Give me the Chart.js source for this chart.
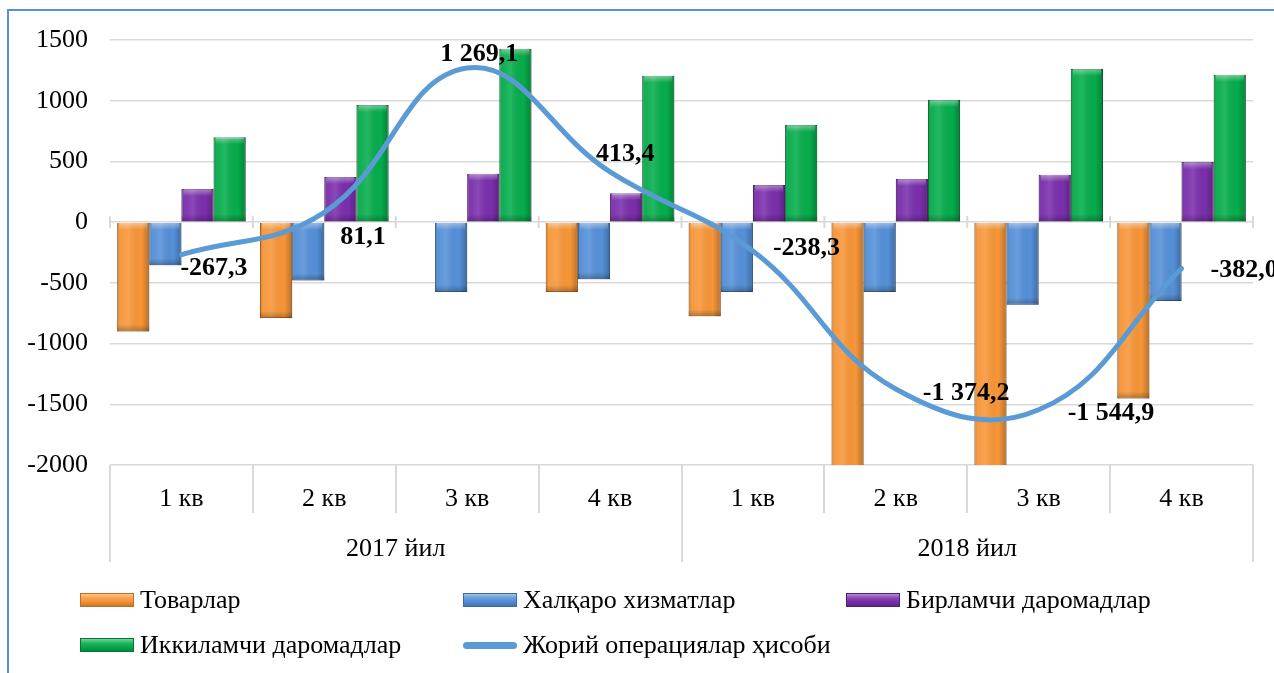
<!DOCTYPE html>
<html>
<head>
<meta charset="utf-8">
<script src="https://cdn.jsdelivr.net/npm/chart.js@4.4.0/dist/chart.umd.min.js"></script>
<style>
  html, body { margin: 0; padding: 0; background: #fff; }
  #wrap { position: relative; width: 1274px; height: 673px; overflow: hidden; }
  #frame { position: absolute; left: 7px; top: 9px; width: 1320px; height: 720px; border: 2px solid #5b8fdc; }
  #chart { position: absolute; left: 0; top: 0; }
  #legend { position: absolute; left: 0; top: 0; font-family: "Liberation Serif", "Times New Roman", serif; font-size: 26px; color: #000; }
  .item { position: absolute; display: flex; align-items: center; white-space: nowrap; height: 30px; }
  .sw { width: 54px; height: 14px; margin-right: 6px; box-sizing: border-box; }
  .sw.line { height: 7px; border-radius: 4px; }
</style>
</head>
<body>
<div id="wrap">
  <div id="frame"></div>
  <canvas id="chart" width="1274" height="673"></canvas>
  <div id="legend"></div>
</div>
<script>
// values
const quarters = ['1 кв', '2 кв', '3 кв', '4 кв', '1 кв', '2 кв', '3 кв', '4 кв'];
const years = ['2017 йил', '2018 йил'];

const goods = [-900, -790, -8, -575, -775, -2150, -2150, -1452];
const services = [-355, -480, -575, -470, -575, -575, -680, -650];
const primaryIncome = [272, 372, 398, 238, 305, 355, 390, 495];
const secondaryIncome = [700, 965, 1427, 1205, 800, 1005, 1262, 1213];
const currentAccount = [-267.3, 81.1, 1269.1, 413.4, -238.3, -1374.2, -1544.9, -382.0];

const yMin = -2000;
const yMax = 1500;
const yStep = 500;

const seriesNames = ['Товарлар', 'Халқаро хизматлар', 'Бирламчи даромадлар', 'Иккиламчи даромадлар', 'Жорий операциялар ҳисоби'];

const FONT = '"Liberation Serif", "Times New Roman", serif';
const GRID = '#d9d9d9';

// number like "-1 374,2"
function fmt(v) {
  const s = Math.abs(v).toFixed(1).split('.');
  const int = s[0].replace(/\B(?=(\d{3})+(?!\d))/g, ' ');
  return (v < 0 ? '-' : '') + int + ',' + s[1];
}

// soft 3d shading on top of every bar
const barShade = {
  id: 'barShade',
  afterDatasetDraw(chart, args) {
    if (args.meta.type !== 'bar') return;
    const { ctx, chartArea } = chart;
    ctx.save();
    ctx.beginPath();
    ctx.rect(chartArea.left, chartArea.top, chartArea.right - chartArea.left, chartArea.bottom - chartArea.top);
    ctx.clip();
    args.meta.data.forEach((bar) => {
      const { x, y, base, width } = bar.getProps(['x', 'y', 'base', 'width']);
      const l = x - width / 2;
      const top = Math.min(y, base);
      const h = Math.abs(base - y);
      if (h < 2) return;
      const g = ctx.createLinearGradient(l, 0, l + width, 0);
      g.addColorStop(0, 'rgba(0,0,0,0.2)');
      g.addColorStop(0.12, 'rgba(255,255,255,0.04)');
      g.addColorStop(0.35, 'rgba(255,255,255,0.12)');
      g.addColorStop(0.75, 'rgba(0,0,0,0)');
      g.addColorStop(1, 'rgba(0,0,0,0.25)');
      ctx.fillStyle = g;
      ctx.fillRect(l, top, width, h);
      const bev = Math.min(7, h / 2);
      const gt = ctx.createLinearGradient(0, top, 0, top + bev);
      gt.addColorStop(0, 'rgba(255,255,255,0.4)');
      gt.addColorStop(1, 'rgba(255,255,255,0)');
      ctx.fillStyle = gt;
      ctx.fillRect(l + 2, top, width - 4, bev);
      const gb = ctx.createLinearGradient(0, top + h - bev, 0, top + h);
      gb.addColorStop(0, 'rgba(0,0,0,0)');
      gb.addColorStop(1, 'rgba(0,0,0,0.25)');
      ctx.fillStyle = gb;
      ctx.fillRect(l, top + h - bev, width, bev);
    });
    ctx.restore();
  }
};

// short tick marks where the category axis crosses zero
const zeroTicks = {
  id: 'zeroTicks',
  beforeDatasetsDraw(chart) {
    const { ctx } = chart;
    const xs = chart.scales.x;
    const y0 = chart.scales.y.getPixelForValue(0);
    const half = (xs.getPixelForValue(1) - xs.getPixelForValue(0)) / 2;
    ctx.save();
    ctx.strokeStyle = GRID;
    ctx.lineWidth = 2;
    for (let i = 0; i <= quarters.length; i++) {
      const px = xs.getPixelForValue(i) - half;
      ctx.beginPath();
      ctx.moveTo(px, y0 - 6);
      ctx.lineTo(px, y0 + 6);
      ctx.stroke();
    }
    ctx.restore();
  }
};

// value labels of the line, placed like in the original
const lineLabels = {
  id: 'lineLabels',
  afterDatasetsDraw(chart, args, opts) {
    const idx = chart.data.datasets.findIndex((d) => d.type === 'line');
    const meta = chart.getDatasetMeta(idx);
    const { ctx } = chart;
    ctx.save();
    ctx.font = 'bold 26px ' + FONT;
    ctx.fillStyle = '#000';
    ctx.textAlign = 'left';
    ctx.textBaseline = 'middle';
    meta.data.forEach((pt, i) => {
      const off = opts.offsets[i] || [8, 0];
      ctx.fillText(fmt(chart.data.datasets[idx].data[i]), pt.x + off[0], pt.y + off[1]);
    });
    ctx.restore();
  }
};

const barColors = [
  { bg: '#f79638', border: '#c06f22' },
  { bg: '#5590d8', border: '#386aa8' },
  { bg: '#7a2fac', border: '#531e78' },
  { bg: '#06ad4c', border: '#067634' }
];
const lineColor = '#5b9bd5';

const barSeries = [goods, services, primaryIncome, secondaryIncome];

const datasets = barSeries.map((data, i) => ({
  type: 'bar',
  label: seriesNames[i],
  data,
  backgroundColor: barColors[i].bg,
  borderColor: barColors[i].border,
  borderWidth: 1,
  barPercentage: 1,
  categoryPercentage: 0.9,
  clip: 0,
  order: 1
}));

datasets.push({
  type: 'line',
  label: seriesNames[4],
  data: currentAccount,
  borderColor: lineColor,
  borderWidth: 5,
  borderCapStyle: 'round',
  tension: 0.42,
  pointRadius: 0,
  fill: false,
  order: 0
});

const chart = new Chart(document.getElementById('chart'), {
  data: { labels: quarters, datasets },
  plugins: [barShade, zeroTicks, lineLabels],
  options: {
    responsive: false,
    animation: false,
    devicePixelRatio: 1,
    layout: { padding: { top: 40, right: 21, bottom: 111, left: 0 } },
    plugins: {
      legend: { display: false },
      tooltip: { enabled: false },
      lineLabels: {
        offsets: [[-1, 14], [16, 25], [-27, -14], [-14, -18], [20, -3], [27, 4], [29, 4], [29, 2]]
      }
    },
    scales: {
      y: {
        min: yMin,
        max: yMax,
        ticks: {
          stepSize: yStep,
          padding: 22,
          color: '#000',
          font: { family: FONT, size: 26 },
          callback: (v) => String(v)
        },
        grid: { color: GRID, lineWidth: 1.5, drawTicks: false },
        border: { display: false },
        afterFit(scale) { scale.width = 110; }
      },
      x: {
        type: 'category',
        position: 'bottom',
        offset: true,
        weight: 1,
        ticks: { padding: -29, color: '#000', font: { family: FONT, size: 26 } },
        grid: { offset: true, drawOnChartArea: false, drawTicks: true, tickLength: 48, color: GRID, lineWidth: 2 },
        border: { display: false },
        afterFit(scale) { scale.height = 48; }
      },
      x2: {
        type: 'category',
        position: 'bottom',
        labels: years,
        offset: true,
        weight: 2,
        ticks: { padding: -28, color: '#000', font: { family: FONT, size: 26 } },
        grid: { offset: true, drawOnChartArea: false, drawTicks: true, tickLength: 49, color: GRID, lineWidth: 2 },
        border: { display: false },
        afterFit(scale) { scale.height = 49; }
      }
    }
  }
});

// legend laid out in columns like the original
const legendCols = [80, 463, 846];
const legendRows = [600, 645];
const legendEl = document.getElementById('legend');
chart.data.datasets.forEach((ds, i) => {
  const item = document.createElement('div');
  item.className = 'item';
  item.style.left = legendCols[i % 3] + 'px';
  item.style.top = (legendRows[Math.floor(i / 3)] - 15) + 'px';
  const sw = document.createElement('span');
  if (ds.type === 'line') {
    sw.className = 'sw line';
    sw.style.background = ds.borderColor;
  } else {
    sw.className = 'sw';
    sw.style.background = 'linear-gradient(to bottom, rgba(255,255,255,0.45), rgba(255,255,255,0.1) 35%, rgba(0,0,0,0) 60%, rgba(0,0,0,0.2)), ' + ds.backgroundColor;
    sw.style.border = '1px solid ' + ds.borderColor;
  }
  const tx = document.createElement('span');
  tx.textContent = ds.label;
  item.appendChild(sw);
  item.appendChild(tx);
  legendEl.appendChild(item);
});
</script>
</body>
</html>
